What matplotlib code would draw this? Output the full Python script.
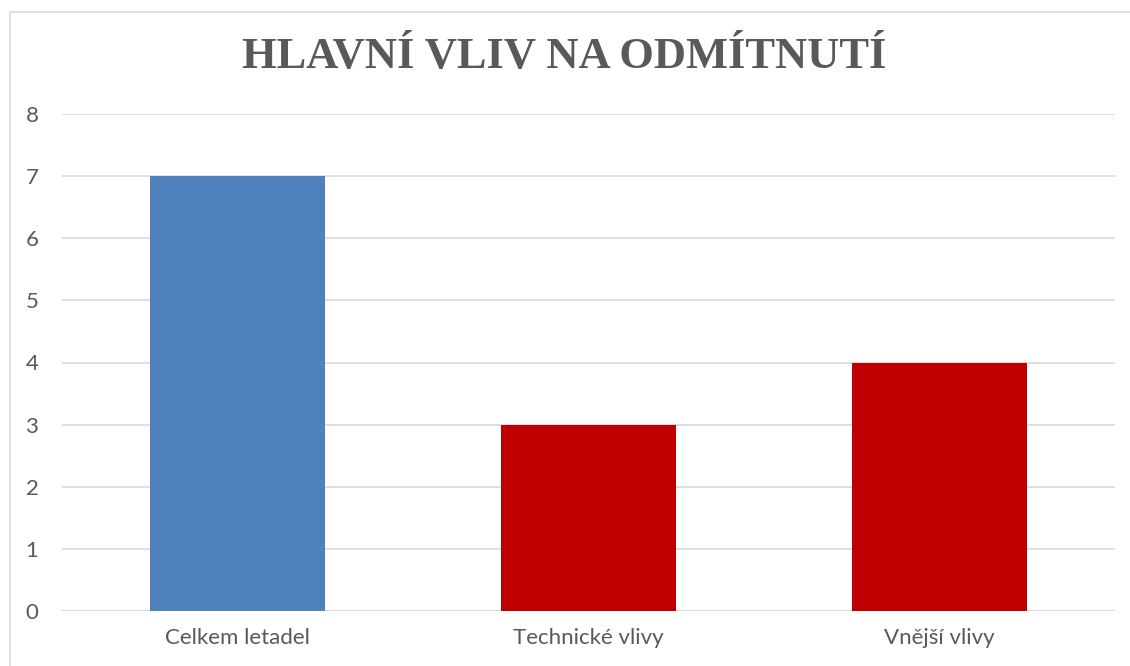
import matplotlib.pyplot as plt
from matplotlib.patches import Rectangle

categories = ["Celkem letadel", "Technické vlivy", "Vnější vlivy"]
values = [7, 3, 4]
colors = ["#4F81BD", "#C00000", "#C00000"]
title = "HLAVNÍ VLIV NA ODMÍTNUTÍ"

W, H = 1130, 666
fig = plt.figure(figsize=(W / 100, H / 100), dpi=100)

# light chart border (only left/top edges visible in the reference)
fig.patches.append(Rectangle((10 / W, -0.1), 1.2, 1 - 12 / H + 0.1,
                             transform=fig.transFigure, fill=False,
                             edgecolor="#D9D9D9", linewidth=1.2))

ax = fig.add_axes([62 / W, 1 - 611 / H, (1115 - 62) / W, (611 - 114) / H])
x = range(len(categories))
ax.bar(x, values, width=0.5, color=colors, zorder=3)

ax.set_xlim(-0.5, len(categories) - 0.5)
ax.set_ylim(0, 8)
ax.set_yticks(range(0, 9))
ax.set_xticks(list(x))
ax.set_xticklabels(categories)
ax.grid(axis="y", color="#D9D9D9", linewidth=1.2, zorder=0)
for s in ax.spines.values():
    s.set_visible(False)
ax.axhline(0, color="#D9D9D9", linewidth=1.5, zorder=2)
ax.tick_params(length=0, labelsize=16, colors="#595959")
ax.tick_params(axis="y", pad=17)
ax.tick_params(axis="x", pad=12)
for lbl in ax.get_xticklabels() + ax.get_yticklabels():
    lbl.set_fontfamily("Lato")

fig.text(564 / W, 1 - 57 / H, title, ha="center", va="center",
         fontfamily="Liberation Serif", fontweight="bold", fontsize=32,
         color="#595959")

fig.savefig("out.png", dpi=100)
